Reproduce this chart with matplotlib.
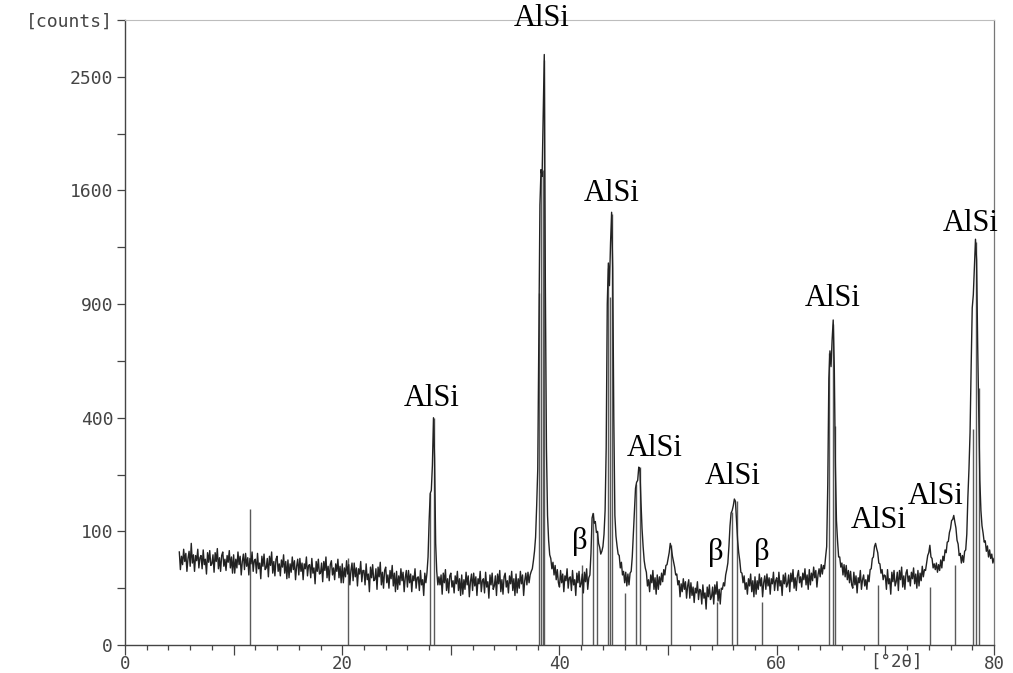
import numpy as np
import matplotlib
matplotlib.use("Agg")
import matplotlib.pyplot as plt
from matplotlib.ticker import FixedLocator, NullFormatter

plt.rcParams['font.family'] = ['DejaVu Sans Mono']

# ---------------- data ----------------
start_2theta = 5.0
step_2theta = 0.1

counts_05_15 = [
    67, 44, 61, 50, 71, 54, 65, 42, 58, 68,
    48, 80, 52, 63, 42, 62, 55, 71, 46, 59,
    62, 45, 70, 50, 57, 39, 66, 53, 69, 49,
    51, 63, 41, 66, 54, 72, 45, 59, 42, 62,
    67, 48, 57, 43, 62, 53, 69, 46, 60, 40,
    63, 40, 57, 46, 67, 50, 61, 38, 54, 64,
    44, 65, 48, 59, 38, 58, 51, 67, 42, 55,
    57, 40, 65, 45, 52, 34, 61, 48, 64, 44,
    46, 58, 36, 61, 49, 67, 40, 54, 37, 57,
    61, 42, 51, 37, 56, 47, 63, 40, 54, 34,
]
counts_15_25 = [
    56, 35, 51, 41, 60, 44, 55, 33, 48, 57,
    38, 58, 42, 52, 33, 51, 45, 60, 37, 49,
    50, 35, 58, 40, 46, 29, 54, 42, 57, 39,
    40, 52, 31, 54, 43, 60, 35, 48, 32, 50,
    55, 38, 46, 33, 51, 42, 57, 35, 48, 30,
    51, 30, 46, 36, 55, 39, 50, 28, 43, 52,
    32, 52, 36, 46, 27, 45, 39, 54, 31, 43,
    43, 28, 51, 33, 39, 22, 47, 35, 50, 32,
    33, 45, 24, 47, 36, 53, 28, 41, 25, 43,
    47, 30, 38, 25, 43, 34, 49, 27, 40, 22,
]
counts_25_35 = [
    42, 24, 37, 28, 45, 32, 41, 22, 35, 43,
    26, 43, 30, 39, 22, 37, 32, 45, 25, 35,
    36, 23, 43, 28, 33, 19, 40, 30, 40, 60,
    120, 178, 185, 250, 400, 270, 80, 42, 28, 36,
    28, 38, 20, 40, 30, 44, 23, 34, 21, 37,
    40, 26, 32, 21, 37, 29, 42, 23, 34, 19,
    38, 20, 33, 24, 41, 28, 37, 18, 31, 39,
    23, 40, 27, 36, 19, 34, 29, 42, 22, 32,
    34, 21, 41, 26, 31, 17, 38, 28, 40, 24,
    27, 37, 19, 39, 29, 43, 22, 33, 20, 36,
]
counts_35_45 = [
    40, 26, 32, 21, 37, 29, 42, 23, 34, 19,
    39, 21, 34, 25, 42, 29, 38, 19, 32, 40,
    28, 41, 30, 38, 42, 45, 55, 68, 90, 150,
    240, 750, 1500, 1750, 1700, 2150, 2700, 1000, 300, 130,
    85, 63, 58, 45, 53, 38, 49, 33, 44, 30,
    26, 43, 30, 39, 22, 37, 32, 45, 25, 35,
    36, 23, 43, 28, 33, 19, 40, 30, 42, 26,
    29, 39, 21, 41, 31, 45, 24, 35, 38, 65,
    125, 134, 115, 118, 98, 100, 80, 74, 64, 68,
    75, 95, 140, 300, 900, 1130, 1000, 1250, 1450, 1100,
]
counts_45_55 = [
    400, 130, 92, 76, 64, 62, 46, 53, 38, 42,
    30, 41, 27, 39, 28, 40, 42, 60, 95, 140,
    190, 205, 210, 245, 240, 160, 105, 75, 55, 46,
    41, 27, 33, 22, 38, 30, 43, 24, 35, 20,
    38, 24, 36, 28, 40, 31, 44, 38, 49, 50,
    58, 66, 80, 73, 61, 54, 47, 38, 39, 28,
    32, 18, 29, 22, 34, 24, 31, 17, 27, 33,
    17, 30, 19, 26, 14, 25, 21, 31, 16, 24,
    23, 13, 28, 17, 21, 10, 26, 18, 28, 16,
    18, 26, 13, 28, 20, 31, 15, 24, 13, 25,
]
counts_55_65 = [
    24, 30, 27, 38, 44, 52, 75, 110, 135, 140,
    150, 165, 160, 120, 85, 66, 55, 41, 40, 30,
    37, 24, 30, 20, 34, 27, 39, 22, 32, 18,
    36, 20, 32, 24, 39, 27, 35, 18, 30, 37,
    24, 39, 27, 35, 20, 34, 29, 41, 23, 32,
    35, 23, 41, 27, 32, 19, 38, 29, 40, 26,
    29, 38, 22, 40, 31, 44, 25, 35, 23, 37,
    43, 30, 36, 26, 40, 33, 45, 28, 38, 24,
    44, 28, 40, 32, 47, 35, 43, 26, 38, 45,
    36, 50, 39, 49, 45, 60, 75, 200, 550, 670,
]
counts_65_75 = [
    600, 720, 818, 600, 250, 120, 84, 60, 60, 47,
    52, 38, 50, 36, 49, 33, 43, 30, 42, 28,
    25, 41, 28, 37, 21, 35, 30, 43, 24, 33,
    38, 27, 33, 24, 38, 31, 44, 45, 58, 60,
    75, 80, 72, 66, 52, 51, 40, 44, 33, 38,
    37, 24, 44, 29, 34, 20, 41, 31, 43, 27,
    31, 41, 23, 43, 33, 47, 26, 37, 24, 40,
    44, 31, 37, 27, 41, 34, 46, 29, 39, 25,
    43, 27, 40, 32, 48, 36, 44, 43, 52, 62,
    66, 77, 60, 58, 46, 51, 44, 52, 41, 50,
]
counts_75_80 = [
    43, 56, 46, 61, 55, 70, 66, 82, 83, 98,
    105, 120, 122, 130, 117, 106, 85, 79, 62, 65,
    52, 62, 53, 68, 70, 95, 170, 240, 350, 600,
    880, 950, 1100, 1275, 1150, 700, 420, 210, 140, 110,
    97, 82, 84, 68, 76, 60, 70, 58, 64, 52,
    58,
]

# reference pattern sticks (position in deg 2theta, height in counts)
stick_pos = [11.5, 20.55, 28.1, 28.45, 38.15, 38.27, 38.45, 38.6, 42.05, 43.05,
             43.48, 44.43, 44.65, 44.86, 46.03, 47.0, 47.4, 50.26, 54.53, 55.85,
             56.3, 58.6, 64.85, 65.2, 65.35, 69.3, 74.1, 76.4, 78.03, 78.34, 78.65]
stick_h = [143, 59, 180, 400, 960, 1700, 1750, 2650, 50, 134,
           100, 1100, 940, 1440, 21, 200, 245, 78, 14, 138,
           160, 14, 660, 800, 370, 28, 26, 50, 360, 1260, 510]

label_text = ['AlSi'] * 9 + ['β'] * 3
label_x = [28.2, 38.4, 44.84, 48.8, 55.97, 65.18, 69.4, 74.66, 77.9, 41.9, 54.4, 58.6]
label_y = [443, 2969, 1528, 277, 201, 890, 106, 154, 1328, 71, 56, 56]

y_major = [0, 100, 400, 900, 1600, 2500, 3025]
y_major_labels = ['0', '100', '400', '900', '1600', '2500', '[counts]']
y_minor = [25, 225, 625, 1225, 2025]
x_labeled = [0, 20, 40, 60, 80]
x_unit_label = '[°2θ]'

# ---------------- plot ----------------
counts = np.array(counts_05_15 + counts_15_25 + counts_25_35 + counts_35_45 +
                  counts_45_55 + counts_55_65 + counts_65_75 + counts_75_80, float)
two_theta = start_2theta + step_2theta * np.arange(len(counts))

fig = plt.figure(figsize=(10.13, 6.73), dpi=100)
ax = fig.add_axes([0.1234, 0.0416, 0.8578, 0.9287])

ax.set_yscale('function', functions=(lambda v: np.sqrt(np.clip(v, 0, None)),
                                     lambda v: np.square(v)))
ax.set_xlim(0, 80)
ax.set_ylim(0, 3025)

ax.vlines(stick_pos, 0, stick_h, colors='#5a5a5a', linewidth=1.0, zorder=2)
ax.plot(two_theta, counts, color='#222222', linewidth=1.0, zorder=3)

for t, x, y in zip(label_text, label_x, label_y):
    ax.text(x, y, t, ha='center', va='baseline', fontsize=22,
            family=['Liberation Serif', 'DejaVu Serif'], color='black',
            clip_on=False, zorder=5)

# axes styling
for s in ['left', 'bottom']:
    ax.spines[s].set_color('#444444')
    ax.spines[s].set_linewidth(1.0)
ax.spines['right'].set_color('#777777')
ax.spines['right'].set_linewidth(0.9)
ax.spines['top'].set_color('#bdbdbd')
ax.spines['top'].set_linewidth(0.8)

ax.yaxis.set_major_locator(FixedLocator(y_major))
ax.yaxis.set_minor_locator(FixedLocator(y_minor))
ax.set_yticklabels(y_major_labels)
ax.yaxis.set_minor_formatter(NullFormatter())

ax.set_xticks(np.arange(0, 81, 10))
ax.set_xticklabels([str(v) if v in x_labeled else '' for v in range(0, 81, 10)])
ax.set_xticks(np.arange(0, 81, 2), minor=True)

ax.tick_params(axis='y', which='both', direction='out', length=5.5, width=0.9,
               color='#444444', labelsize=13, labelcolor='#444444', pad=3)
ax.tick_params(axis='x', which='major', direction='out', length=7, width=0.9,
               color='#444444', labelsize=12.5, labelcolor='#444444', pad=0.5)
ax.tick_params(axis='x', which='minor', direction='out', length=3.5, width=0.9,
               color='#444444')
ax.tick_params(right=False, top=False)

ax.text(71, -0.013, x_unit_label, transform=ax.get_xaxis_transform(),
        ha='center', va='top', fontsize=12.5, color='#444444',
        family=['DejaVu Sans Mono'])

fig.savefig('out.png', dpi=100)
